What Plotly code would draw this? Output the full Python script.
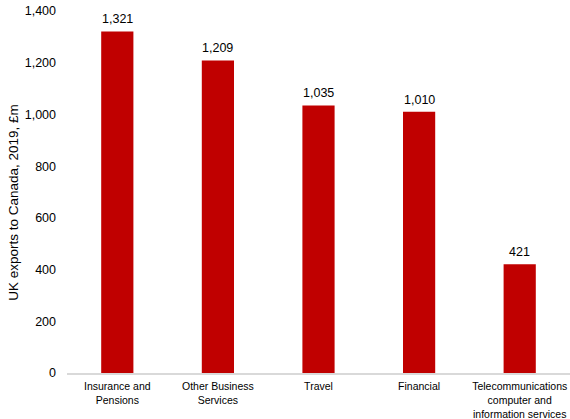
import plotly.graph_objects as go

categories = [
    "Insurance and<br>Pensions",
    "Other Business<br>Services",
    "Travel",
    "Financial",
    "Telecommunications<br>computer and<br>information services",
]
values = [1321, 1209, 1035, 1010, 421]
y_ticks = [0, 200, 400, 600, 800, 1000, 1200, 1400]
y_tick_labels = ["0", "200", "400", "600", "800", "1,000", "1,200", "1,400"]

FONT = "Liberation Sans, Arial, Helvetica, sans-serif"
INK = "#000000"

fig = go.Figure(
    go.Bar(
        x=categories,
        y=values,
        width=0.32,
        marker=dict(color="#C00000", line=dict(width=0)),
        cliponaxis=False,
    )
)

# value labels above each bar
for cat, val in zip(categories, values):
    fig.add_annotation(
        x=cat, y=val, xref="x", yref="y",
        text=f"{val:,}", showarrow=False,
        yanchor="bottom", yshift=3,
        font=dict(family=FONT, size=12.5, color=INK),
    )

# rotated y-axis title
fig.add_annotation(
    x=0, y=0.47, xref="paper", yref="paper",
    xanchor="center", yanchor="middle", xshift=-53,
    text="UK exports to Canada, 2019, £m", textangle=-90,
    showarrow=False,
    font=dict(family=FONT, size=13.5, color=INK),
)

fig.update_layout(
    width=570,
    height=419,
    margin=dict(l=67, r=0, t=11, b=46),
    paper_bgcolor="white",
    plot_bgcolor="white",
    showlegend=False,
    font=dict(family=FONT, color=INK),
    xaxis=dict(
        showgrid=False,
        showline=True,
        linecolor="#D9D9D9",
        linewidth=1.5,
        ticks="",
        ticklabelstandoff=3,
        tickfont=dict(size=10.5, color=INK),
    ),
    yaxis=dict(
        range=[0, 1400],
        tickvals=y_ticks,
        ticktext=y_tick_labels,
        showgrid=False,
        showline=False,
        zeroline=False,
        ticks="",
        ticklabelstandoff=10,
        tickfont=dict(size=12.5, color=INK),
    ),
    bargap=0.68,
)

fig.write_html("out.html")
